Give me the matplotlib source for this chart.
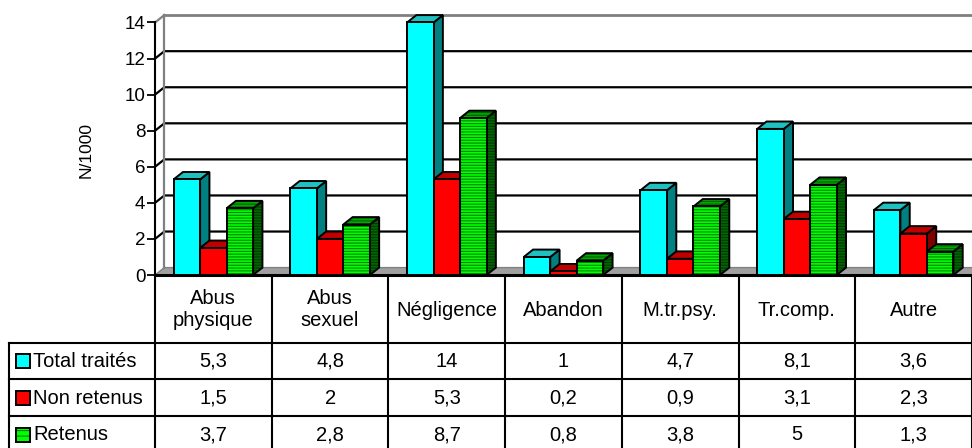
import matplotlib
matplotlib.use("Agg")
import matplotlib.pyplot as plt
from matplotlib.patches import Polygon, Rectangle

categories = ["Abus\nphysique", "Abus\nsexuel", "Négligence", "Abandon",
              "M.tr.psy.", "Tr.comp.", "Autre"]
series_names = ["Total traités", "Non retenus", "Retenus"]
total_traites = [5.3, 4.8, 14, 1, 4.7, 8.1, 3.6]
non_retenus = [1.5, 2, 5.3, 0.2, 0.9, 3.1, 2.3]
retenus = [3.7, 2.8, 8.7, 0.8, 3.8, 5, 1.3]
y_ticks = [0, 2, 4, 6, 8, 10, 12, 14]

series = [total_traites, non_retenus, retenus]

plt.rcParams['font.family'] = ['Liberation Sans', 'DejaVu Sans']
plt.rcParams['hatch.linewidth'] = 0.8

# colours of the front, top and side faces for each series
styles = [
    dict(front="#00ffff", top="#20c0c0", side="#008080", hatch=None),
    dict(front="#ff0000", top="#c00000", side="#800000", hatch=None),
    dict(front="#00ff00", top="#00a800", side="#006800", hatch="------",
         hc_front="#008000", hc_top="#006000", hc_side="#003800"),
]

W, H = 972, 448
fig = plt.figure(figsize=(W / 100, H / 100), dpi=100)

# table area (pixel coordinates)
tab = fig.add_axes([0, 0, 1, 1], zorder=0)
tab.set_xlim(0, W)
tab.set_ylim(H, 0)
tab.axis("off")

x_left, x_axis, x_right = 9, 155, 972
y_zero, y_top = 275, 22.5
ax = fig.add_axes([x_axis / W, (H - y_zero) / H, (x_right - x_axis) / W,
                   (y_zero - y_top) / H], zorder=1)
ax.set_facecolor("none")
n = len(categories)
ax.set_xlim(-0.5, n - 0.5)
ax.set_ylim(0, 14)

bw = 0.227   # bar width
dx, dy = 0.08, 0.41   # depth offset


def face(pts, fc, hatch=None, hc=None, z=3):
    if hatch:
        ax.add_patch(Polygon(pts, closed=True, facecolor=fc, edgecolor=hc,
                             hatch=hatch, lw=0, zorder=z, clip_on=False))
        ax.add_patch(Polygon(pts, closed=True, facecolor="none", edgecolor="black",
                             lw=1.4, zorder=z, clip_on=False))
    else:
        ax.add_patch(Polygon(pts, closed=True, facecolor=fc, edgecolor="black",
                             lw=1.4, zorder=z, clip_on=False))


# floor and back wall
x0w, x1w = -0.5, n - 0.5
ax.add_patch(Polygon([(x0w, 0), (x1w + 1, 0), (x1w + 1 + dx, dy), (x0w + dx, dy)],
                     closed=True, facecolor="#a0a0a0", edgecolor="#808080",
                     lw=1, zorder=1, clip_on=False))
for v in y_ticks[1:-1]:
    ax.plot([x0w, x0w + dx, x1w + 1], [v, v + dy, v + dy], color="black", lw=1.6,
            zorder=1, clip_on=False)
ax.plot([x0w + dx, x1w + 1], [14 + dy, 14 + dy], color="#808080", lw=2,
        zorder=1, clip_on=False)
ax.plot([x0w + dx, x0w + dx], [dy, 14 + dy], color="#808080", lw=1.6,
        zorder=1, clip_on=False)
ax.plot([x0w, x0w + dx], [14, 14 + dy], color="#808080", lw=1.6,
        zorder=1, clip_on=False)

# 3D bars
for i in range(n):
    for s, vals in enumerate(series):
        v = vals[i]
        st = styles[s]
        a = i + (s - 1.5) * bw
        b = a + bw
        z = 3 + s
        face([(b, 0), (b + dx, dy), (b + dx, v + dy), (b, v)], st["side"],
             st["hatch"], st.get("hc_side"), z)
        face([(a, v), (b, v), (b + dx, v + dy), (a + dx, v + dy)], st["top"],
             st["hatch"], st.get("hc_top"), z)
        face([(a, 0), (b, 0), (b, v), (a, v)], st["front"],
             st["hatch"], st.get("hc_front"), z)

ax.set_xticks([])
ax.set_yticks(y_ticks)
ax.tick_params(axis="y", direction="out", length=6, width=1.3, labelsize=13.5, pad=1)
for side in ["top", "right"]:
    ax.spines[side].set_visible(False)
ax.spines["left"].set_linewidth(1.5)
ax.spines["bottom"].set_linewidth(2.2)
ax.set_ylabel("N/1000", fontsize=12.5)
ax.yaxis.set_label_coords(-0.075, 0.495)

# data table under the chart
cw = (x_right - x_axis) / n
row_lines = [343, 379.5, 416.5, 453]
lw_t = 1.5
for yl in row_lines:
    tab.plot([x_left, x_right], [yl, yl], color="black", lw=lw_t)
tab.plot([x_left, x_left], [row_lines[0], row_lines[-1]], color="black", lw=lw_t)
for k in range(n + 1):
    xc = x_axis + k * cw
    tab.plot([xc, xc], [y_zero, row_lines[-1]], color="black", lw=lw_t)

for k, cat in enumerate(categories):
    tab.text(x_axis + (k + 0.5) * cw, (y_zero + row_lines[0]) / 2 + 1, cat,
             ha="center", va="center", fontsize=14.5)

for s, vals in enumerate(series):
    yc = (row_lines[s] + row_lines[s + 1]) / 2
    st = styles[s]
    if st["hatch"]:
        tab.add_patch(Rectangle((16, yc - 7), 14, 14, facecolor=st["front"],
                                edgecolor=st["hc_front"], hatch="---", lw=0))
        tab.add_patch(Rectangle((16, yc - 7), 14, 14, facecolor="none",
                                edgecolor="black", lw=1.4))
    else:
        tab.add_patch(Rectangle((16, yc - 7), 14, 14, facecolor=st["front"],
                                edgecolor="black", lw=1.4))
    tab.text(33, yc, series_names[s], ha="left", va="center", fontsize=14.5)
    for k, v in enumerate(vals):
        tab.text(x_axis + (k + 0.5) * cw, yc, f"{v:g}".replace(".", ","),
                 ha="center", va="center", fontsize=14.5)

fig.savefig("out.png", dpi=100)
